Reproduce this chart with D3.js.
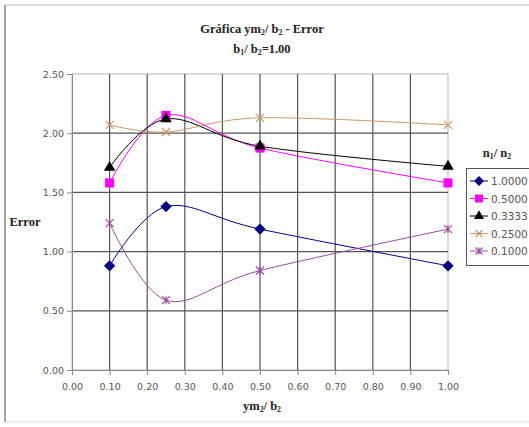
<!DOCTYPE html>
<html>
<head>
<meta charset="utf-8">
<script src="https://cdn.jsdelivr.net/npm/d3@7"></script>
<style>
	body { margin: 0; background: #fff; }
	svg { display: block; }
	.tick text { font-family: "DejaVu Sans", Tahoma, sans-serif; font-size: 9.5px; fill: #555; }
	.serif { font-family: "Liberation Serif", "Times New Roman", serif; font-weight: bold; fill: #222; }
</style>
</head>
<body>
<div id="chart"></div>
<script>
// data
const xValues = [0.10, 0.25, 0.50, 1.00];
const seriesNames = ["1.0000", "0.5000", "0.3333", "0.2500", "0.1000"];
const s1000 = [0.88, 1.38, 1.19, 0.88];
const s0500 = [1.58, 2.15, 1.875, 1.58];
const s0333 = [1.71, 2.12, 1.89, 1.72];
const s0250 = [2.07, 2.01, 2.13, 2.07];
const s0100 = [1.24, 0.59, 0.84, 1.19];
const xTicks = [0, 0.1, 0.2, 0.3, 0.4, 0.5, 0.6, 0.7, 0.8, 0.9, 1.0];
const yTicks = [0, 0.5, 1.0, 1.5, 2.0, 2.5];

const allSeries = [s1000, s0500, s0333, s0250, s0100];
const colors = ["#000080", "#ff00ff", "#000000", "#c89a6a", "#9c4aa0"];
const markers = ["diamond", "square", "triangle", "x", "star"];

const W = 529, H = 427;
const margin = {top: 74, right: 81, bottom: 57, left: 72},
	  width = W - margin.left - margin.right,
	  height = H - margin.top - margin.bottom;

const root = d3.select("#chart").append("svg")
	.attr("width", W)
	.attr("height", H);

// outer chart frame
root.append("line").attr("x1", 5).attr("x2", 5).attr("y1", 5).attr("y2", 422)
	.attr("stroke", "#666").attr("stroke-width", 1.2);
root.append("line").attr("x1", 5).attr("x2", W).attr("y1", 5).attr("y2", 5)
	.attr("stroke", "#bbb").attr("stroke-width", 1);
root.append("line").attr("x1", 5).attr("x2", W).attr("y1", 422).attr("y2", 422)
	.attr("stroke", "#ddd").attr("stroke-width", 1);

const svg = root.append("g")
	.attr("transform", "translate(" + margin.left + "," + margin.top + ")");

let xScale = d3.scaleLinear().domain([0, 1]).range([0, width]);
let yScale = d3.scaleLinear().domain([0, 2.5]).range([height, 0]);

// plot area border
svg.append("rect")
	.attr("width", width).attr("height", height)
	.attr("fill", "none").attr("stroke", "#b5b5b5").attr("stroke-width", 1);

// gridlines
svg.append("g").selectAll("line")
	.data(xTicks.filter(d => d > 0 && d < 1))
	.enter().append("line")
	.attr("x1", d => xScale(d)).attr("x2", d => xScale(d))
	.attr("y1", 0).attr("y2", height)
	.attr("stroke", "#555").attr("stroke-width", 1.2);
svg.append("g").selectAll("line")
	.data(yTicks.filter(d => d > 0 && d < 2.5))
	.enter().append("line")
	.attr("x1", 0).attr("x2", width)
	.attr("y1", d => yScale(d)).attr("y2", d => yScale(d))
	.attr("stroke", "#555").attr("stroke-width", 1.2);

// axes
let xAxis = svg.append("g")
	.attr("transform", "translate(0," + height + ")")
	.call(d3.axisBottom(xScale).tickValues(xTicks).tickFormat(d3.format(".2f")).tickSize(5).tickSizeOuter(0).tickPadding(8));
let yAxis = svg.append("g")
	.call(d3.axisLeft(yScale).tickValues(yTicks).tickFormat(d3.format(".2f")).tickSize(5).tickSizeOuter(0).tickPadding(3));
[xAxis, yAxis].forEach(a => {
	a.select(".domain").attr("stroke", "#888");
	a.selectAll(".tick line").attr("stroke", "#888");
});

// smooth lines like Excel
const line = d3.line()
	.x((d, i) => xScale(xValues[i]))
	.y(d => yScale(d))
	.curve(d3.curveCardinal.tension(0));

allSeries.forEach((s, k) => {
	svg.append("path")
		.attr("d", line(s))
		.attr("fill", "none")
		.attr("stroke", colors[k])
		.attr("stroke-width", 1);
});

function drawMarker(g, type, color, cx, cy, sz) {
	if (type === "diamond") {
		g.append("path").attr("d", d3.symbol(d3.symbolSquare, sz * sz)())
			.attr("transform", "translate(" + cx + "," + cy + ") rotate(45)")
			.attr("fill", color);
	} else if (type === "square") {
		g.append("path").attr("d", d3.symbol(d3.symbolSquare, sz * sz * 1.3)())
			.attr("transform", "translate(" + cx + "," + cy + ")")
			.attr("fill", color);
	} else if (type === "triangle") {
		g.append("path").attr("d", d3.symbol(d3.symbolTriangle, sz * sz * 0.9)())
			.attr("transform", "translate(" + cx + "," + cy + ")")
			.attr("fill", color);
	} else {
		const r = sz / 2;
		let p = "M" + (-r) + "," + (-r) + "L" + r + "," + r + "M" + (-r) + "," + r + "L" + r + "," + (-r);
		if (type === "star") p += "M0," + (-r) + "L0," + r;
		g.append("path").attr("d", p)
			.attr("transform", "translate(" + cx + "," + cy + ")")
			.attr("fill", "none").attr("stroke", color).attr("stroke-width", 1.2);
	}
}

allSeries.forEach((s, k) => {
	const g = svg.append("g");
	s.forEach((v, i) => drawMarker(g, markers[k], colors[k], xScale(xValues[i]), yScale(v), 8));
});

// text helper with subscripts: parts = [[text, sub?], ...]
function richText(parent, x, y, parts, size) {
	const t = parent.append("text").attr("class", "serif")
		.attr("x", x).attr("y", y).attr("text-anchor", "middle")
		.attr("font-size", size);
	parts.forEach(p => {
		const ts = t.append("tspan").text(p[0]);
		if (p[1]) ts.attr("font-size", size * 0.62).attr("dy", 2);
		else if (p[2]) ts.attr("dy", -2);
	});
	return t;
}

richText(root, 262, 33, [["Gráfica ym"], ["2", 1], ["/ b", 0, 1], ["2", 1], [" - Error", 0, 1]], 12.5);
richText(root, 262, 53, [["b"], ["1", 1], ["/ b", 0, 1], ["2", 1], ["=1.00", 0, 1]], 12.5);
richText(root, 262, 410, [["ym"], ["2", 1], ["/ b", 0, 1], ["2", 1]], 12.5);
root.append("text").attr("class", "serif")
	.attr("x", 25).attr("y", 226).attr("text-anchor", "middle")
	.attr("font-size", 12.5).text("Error");

// legend
richText(root, 497, 157, [["n"], ["1", 1], ["/ n", 0, 1], ["2", 1]], 12.5);
const leg = root.append("g");
leg.append("rect").attr("x", 466.5).attr("y", 168.5).attr("width", 70).attr("height", 97)
	.attr("fill", "#fff").attr("stroke", "#555").attr("stroke-width", 1);
seriesNames.forEach((name, k) => {
	const y = 181 + k * 17.5;
	leg.append("line").attr("x1", 470).attr("x2", 488).attr("y1", y).attr("y2", y)
		.attr("stroke", colors[k]).attr("stroke-width", 1);
	drawMarker(leg, markers[k], colors[k], 479, y, 7);
	leg.append("text").attr("x", 491).attr("y", y + 4)
		.attr("font-family", "\"DejaVu Sans\", Tahoma, sans-serif")
		.attr("font-size", 10.5).attr("fill", "#555").text(name);
});
</script>
</body>
</html>
